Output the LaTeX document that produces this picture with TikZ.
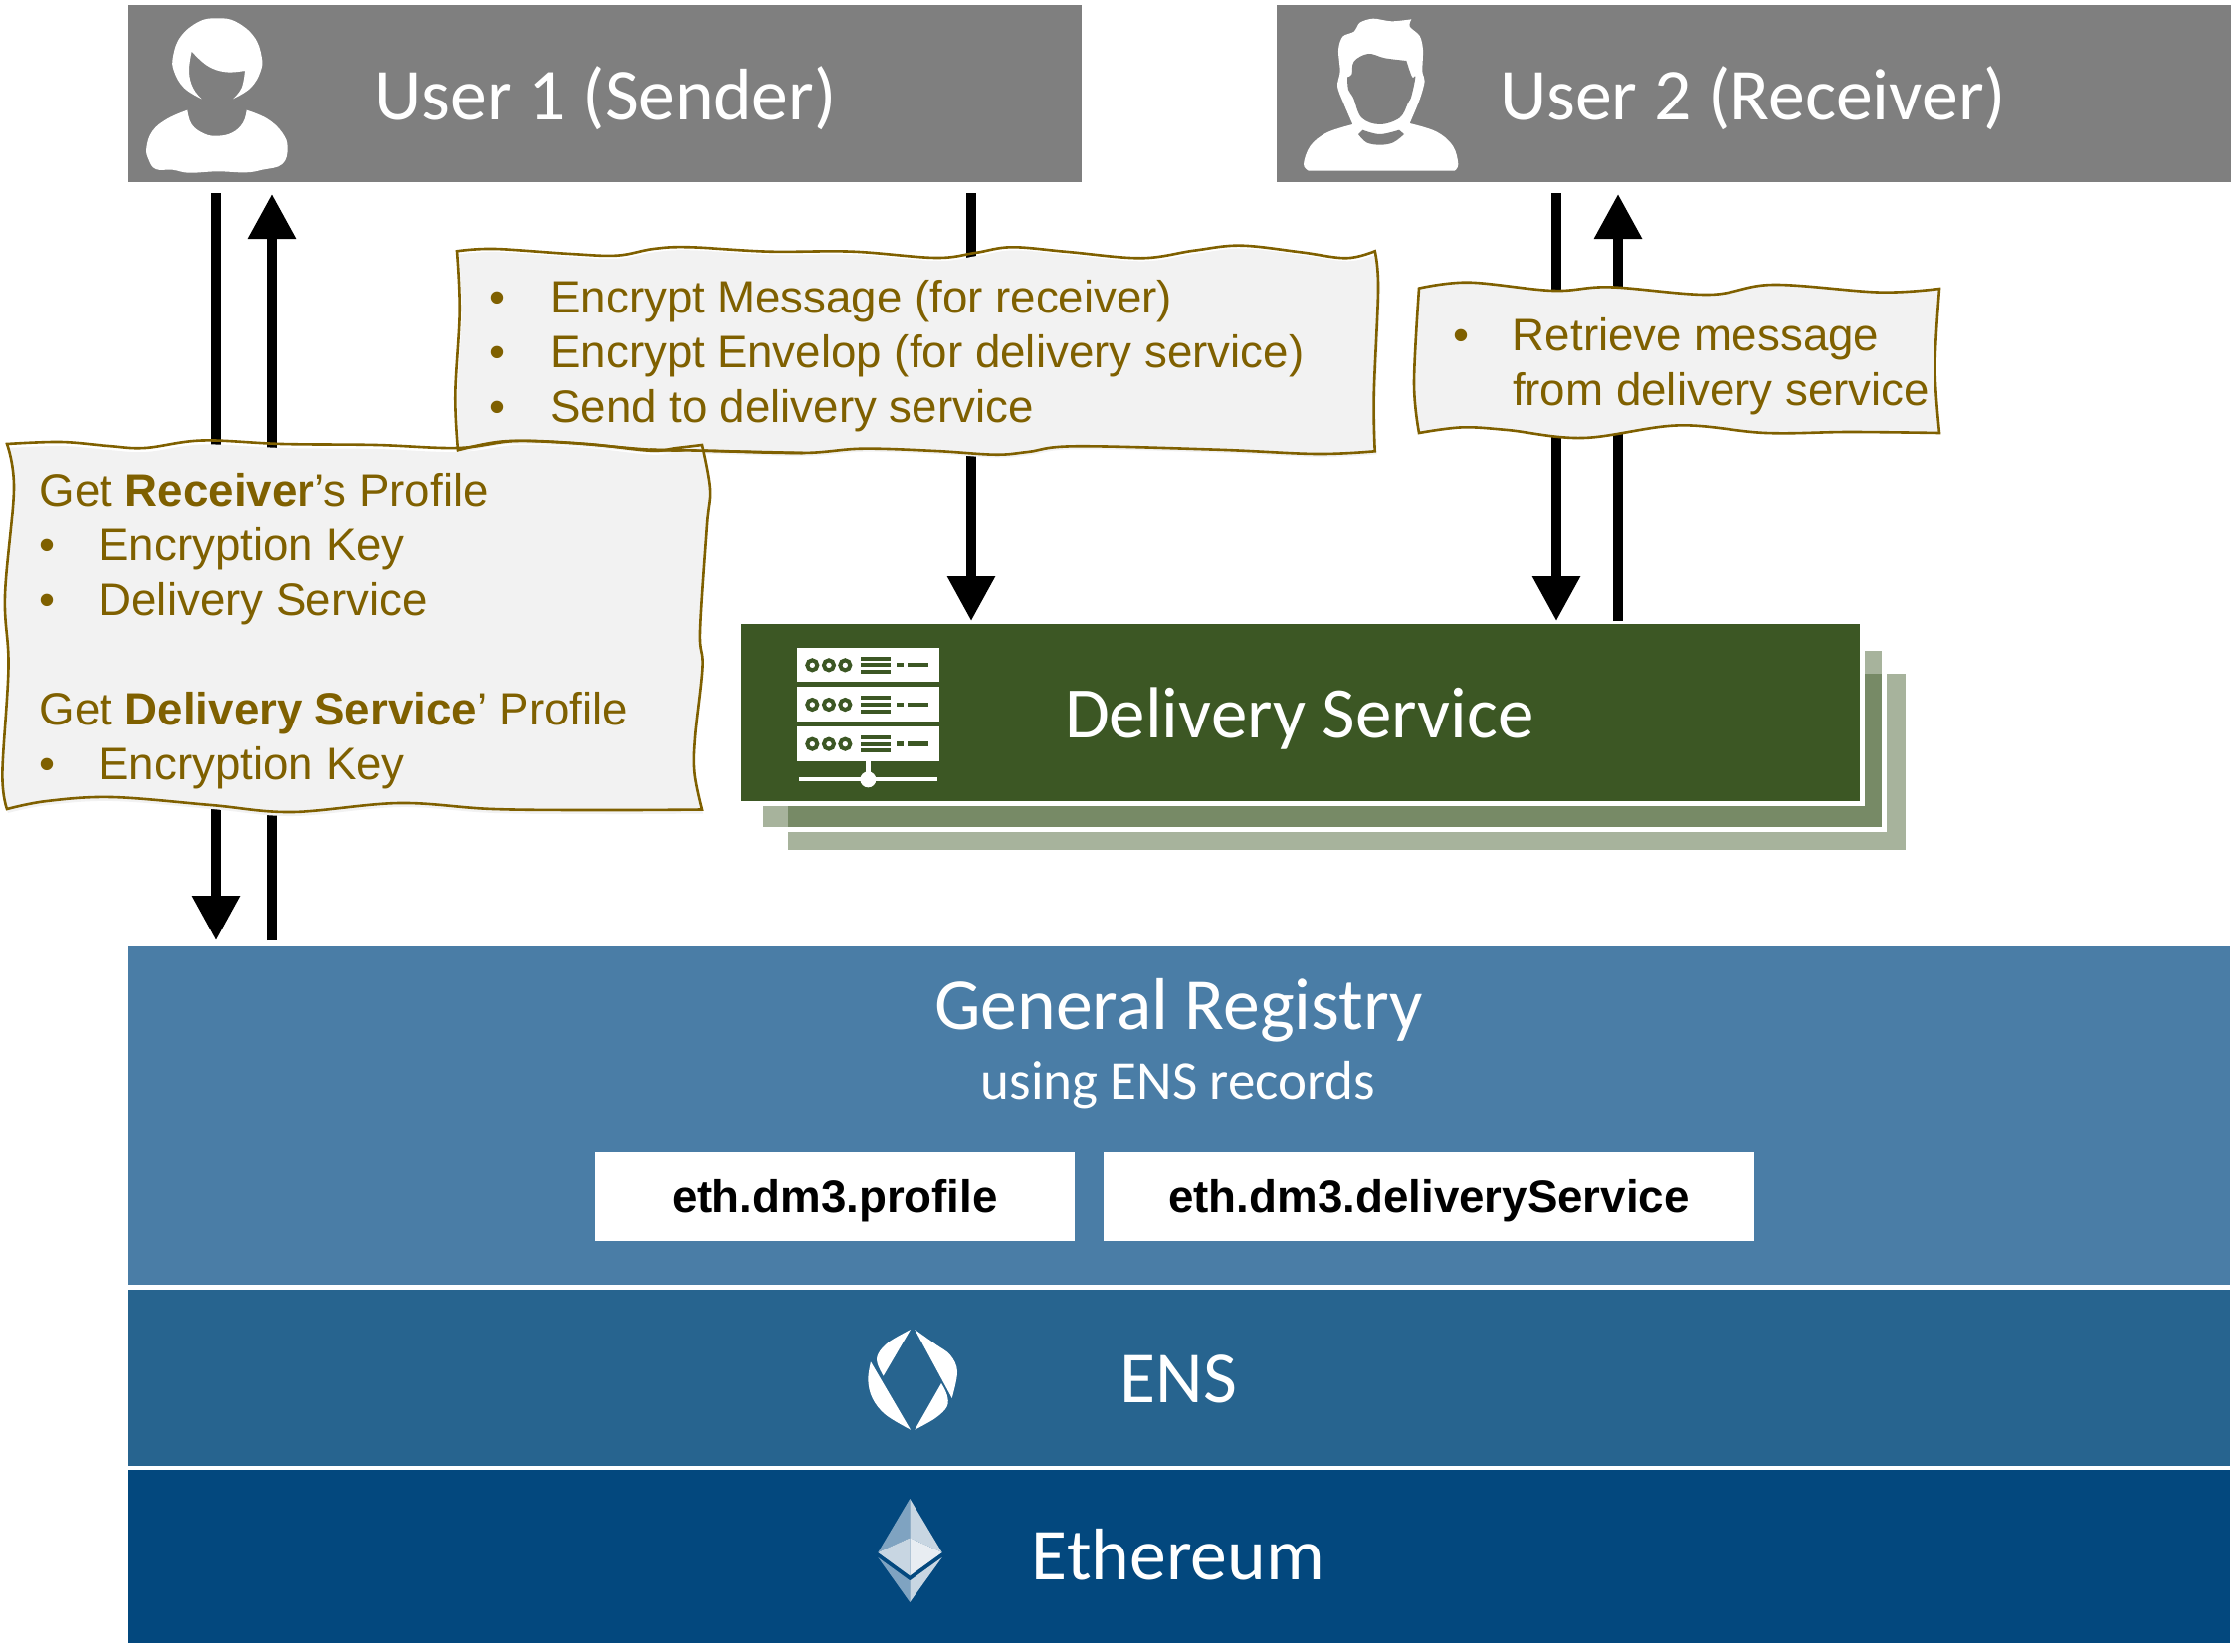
\documentclass[tikz,border=0pt]{standalone}
\usepackage{fontspec}
\setmainfont{Liberation Sans}
\newfontfamily\calib{Carlito}
\usetikzlibrary{arrows.meta}
\definecolor{bargrey}{HTML}{7F7F7F}
\definecolor{dsgreen}{HTML}{3C5724}
\definecolor{regblue}{HTML}{4A7DA6}
\definecolor{ensblue}{HTML}{27648F}
\definecolor{ethblue}{HTML}{03487E}
\definecolor{notetxt}{HTML}{7F6000}
\definecolor{notebg}{HTML}{F2F2F2}
\definecolor{ethA}{HTML}{7FA3C1}
\definecolor{ethB}{HTML}{C8D6E2}
\definecolor{ethC}{HTML}{E8EDF2}
\tikzset{
  every node/.style={outer sep=0pt},
  band/.style={rectangle,inner sep=0pt,anchor=north west,draw=none},
  title/.style={text=white,inner sep=0pt,font=\calib\fontsize{73.7}{80}\selectfont},
  subtitle/.style={text=white,inner sep=0pt,font=\calib\fontsize{55}{60}\selectfont},
  recbox/.style={band,fill=white,text=black,anchor=center,text height=36pt,text depth=3pt,font=\bfseries\fontsize{45.7}{50}\selectfont},
  layer/.style={rectangle,inner sep=0pt,anchor=north west,fill=dsgreen,fill opacity=.45,draw=white,draw opacity=1,line width=5pt},
  conn/.style={line width=9.5pt,black},
  head/.style={-{Triangle[length=45pt,width=46pt]}},
  noteline/.style={draw=notetxt,line width=2.6pt,line join=miter},
  notetext/.style={anchor=north west,inner sep=0pt,align=left,text=notetxt,font=\fontsize{45.7}{55}\selectfont},
}
\newcommand{\bul}[1]{\makebox[#1pt][l]{•}}
\def\noteA{plot[smooth,tension=.6] coordinates {(7,446)(61,444)(109,448)(146,450)(203,442.5)(283,446)(378,447)(460,450)(519,443)(590,446)(653,452.7)(680,450)(705,447)}
 -- plot[smooth,tension=.6] coordinates {(705,447)(713,491)(710,527)(703,634)(705.5,670)(698,741)(697.5,777)(705,813.5)}
 -- plot[smooth,tension=.6] coordinates {(705,813.5)(613,814)(495.5,813)(401,807)(293,816)(212,809)(113,801)(47,805)(7,813)}
 -- plot[smooth,tension=.6] coordinates {(7,813)(2.4,777)(8.5,670)(5,598.6)(14,491)(7,446)} -- cycle}
\def\noteB{plot[smooth,tension=.6] coordinates {(459,252.3)(496.7,250)(573,255)(620,256.7)(656.7,250)(693,248.3)(773,252.7)(856.7,252.7)(940,259)(980,254)(1016.7,248.3)(1073,253)(1146.7,259.3)(1200,251.7)(1246.7,246.7)(1306.7,253.3)(1353,259.3)(1381.7,252.3)}
 -- plot[smooth,tension=.6] coordinates {(1381.7,252.3)(1385,290)(1380.7,396.7)(1381.7,453.3)}
 -- plot[smooth,tension=.6] coordinates {(1381.7,453.3)(1323,456)(1223,451.7)(1080,448.3)(1033,454)(1000,456.7)(940,453)(866.7,450.7)(806.7,455)(706.7,452.7)(653,451.7)(573,445)(506.7,443.3)(460,452.3)}
 -- plot[smooth,tension=.6] coordinates {(460,452.3)(457.3,396.7)(461.7,313)(459,252.3)} -- cycle}
\def\noteC{plot[smooth,tension=.6] coordinates {(1426,289.6)(1476,283.7)(1560.5,292)(1618,288.4)(1717,296)(1782,286)(1889,293.6)(1949,290)}
 -- plot[smooth,tension=.6] coordinates {(1949,290)(1944.5,369)(1949,435)}
 -- plot[smooth,tension=.6] coordinates {(1949,435)(1858.5,434)(1774.5,435)(1686.6,427.4)(1591,440)(1514.6,432)(1469,429.4)(1426,435)}
 -- plot[smooth,tension=.6] coordinates {(1426,435)(1421,384.7)(1426,289.6)} -- cycle}
\begin{document}
\begin{tikzpicture}[x=1pt,y=-1pt]
\useasboundingbox (0,0) rectangle (2250,1659);

% header bands
\node[band,fill=bargrey,minimum width=958.5pt,minimum height=178pt] (user1) at (128.5,5) {};
\node[band,fill=bargrey,minimum width=959pt,minimum height=178pt] (user2) at (1282.5,5) {};
\node[title,anchor=base west] (user1t) at (376.5,121) {User 1 (Sender)};
\node[title,anchor=base west] (user2t) at (1507,121) {User 2 (Receiver)};

% bottom bands
\node[band,fill=regblue,minimum width=2112.5pt,minimum height=340pt] (reg) at (128.5,951) {};
\node[band,fill=ensblue,minimum width=2112.5pt,minimum height=177pt] (ens) at (128.5,1296) {};
\node[band,fill=ethblue,minimum width=2112.5pt,minimum height=174pt] (eth) at (128.5,1477) {};
\node[title,anchor=base] (regt) at (1184.5,1034) {General Registry};
\node[subtitle,anchor=base] (regs) at (1184,1104) {using ENS records};
\node[title,anchor=base] (enst) at (1184.5,1409) {ENS};
\node[title,anchor=base] (etht) at (1184,1587.5) {Ethereum};
\node[recbox,minimum width=482pt,minimum height=89pt] (rec1) at (839,1202) {eth.dm3.profile};
\node[recbox,minimum width=654pt,minimum height=89pt] (rec2) at (1436,1202) {eth.dm3.deliveryService};

% delivery service stack
\node[layer,minimum width=1128pt,minimum height=182pt] (ds3) at (789.5,674.5) {};
\node[layer,minimum width=1129pt,minimum height=182pt] (ds2) at (764.5,651.5) {};
\node[band,fill=dsgreen,draw=white,line width=5pt,minimum width=1128.5pt,minimum height=183pt] (ds) at (742.5,624.5) {};
\node[text=white,inner sep=0pt,font=\calib\fontsize{73}{80}\selectfont,anchor=base west] (dst) at (1070,741) {Delivery Service};

% connectors
\coordinate (a1s) at (217,194); \coordinate (a1e) at (217,945);
\coordinate (a2s) at (273,945); \coordinate (a2e) at (273,195);
\coordinate (a3s) at (976,194); \coordinate (a3e) at (976,624);
\coordinate (a4s) at (1564,194); \coordinate (a4e) at (1564,624);
\coordinate (a5s) at (1626,624); \coordinate (a5e) at (1626,195);
\draw[conn,head] (a1s) -- (a1e);
\draw[conn,head] (a2s) -- (a2e);
\draw[conn,head] (a3s) -- (a3e);
\draw[conn,head] (a4s) -- (a4e);
\draw[conn,head] (a5s) -- (a5e);

% notes
\fill[notebg,shift={(2,3)}] \noteB;
\draw[noteline] \noteB;
\fill[notebg,shift={(1,4)}] \noteA;
\draw[noteline] \noteA;
\draw[noteline] plot[smooth,tension=.6] coordinates {(806.7,455)(706.7,452.7)(653,451.7)};
\fill[notebg] \noteC;
\draw[noteline] \noteC;
\node[notetext] (nb) at (491.5,281) {\bul{62}Encrypt Message (for receiver)\\\bul{62}Encrypt Envelop (for delivery service)\\\bul{62}Send to delivery service};
\node[notetext] (nc) at (1460,319.5) {\bul{60}Retrieve message\\\hspace*{60pt}from delivery service};
\node[notetext] (na) at (39.5,475.5) {Get \textbf{Receiver}’s Profile\\\bul{60}Encryption Key\\\bul{60}Delivery Service\\\mbox{}\\Get \textbf{Delivery Service}’ Profile\\\bul{60}Encryption Key};

% female user icon
\begin{scope}[shift={(100,0)},x=.33333pt,y=-.33333pt]
\fill[white] plot[smooth,tension=.7] coordinates {(308,298)(255,265)(225,215)(222,170)(245,110)(300,65)(355,55)(410,65)(465,110)(488,170)(485,215)(455,265)(402,298)}
 -- plot[smooth,tension=.7] coordinates {(402,298)(428,265)(438,213)} -- plot[smooth,tension=.7] coordinates {(438,213)(380,217)(325,198)(278,155)}
 -- plot[smooth,tension=.7] coordinates {(278,155)(270,215)(282,265)(308,298)} -- cycle;
\fill[white] plot[smooth,tension=.7] coordinates {(265,332)(278,375)(315,403)(355,410)(400,400)(432,370)(443,332)}
 -- plot[smooth,tension=.7] coordinates {(443,332)(505,358)(550,400)(566,445)(550,495)(490,512)(440,520)(355,517)(270,521)(220,512)(170,510)(148,480)(142,445)(160,395)(205,358)(265,332)} -- cycle;
\end{scope}

% male user icon
\begin{scope}[shift={(1270,0)},x=.33333pt,y=-.33333pt]
\fill[white] plot[smooth,tension=.5] coordinates {(445,58)(440,80)(470,108)(480,150)(478,215)(485,245)(470,300)(440,372)}
 -- plot[smooth,tension=.6] coordinates {(440,372)(520,397)(570,440)(586,495)(575,515)}
 -- (135,515) -- plot[smooth,tension=.6] coordinates {(135,515)(120,495)(140,440)(190,400)(268,375)}
 -- plot[smooth,tension=.5] coordinates {(268,375)(240,310)(222,260)(230,215)(225,150)(238,110)(272,95)(290,68)(330,56)(385,64)(445,58)} -- cycle;
\fill[bargrey] plot[smooth,tension=.6] coordinates {(252,232)(265,225)(272,185)(315,162)(365,175)(430,183)}
 -- plot[smooth,tension=.6] coordinates {(430,183)(447,232)(457,232)(445,290)(435,310)(410,355)(350,375)(295,355)(270,295)(255,270)(252,232)} -- cycle;
\fill[bargrey] plot[smooth,tension=.6] coordinates {(298,392)(350,405)(408,392)} -- (423,405) -- plot[smooth,tension=.6] coordinates {(423,405)(390,430)(350,437)(310,430)(285,405)} -- cycle;
\end{scope}

% server icon
\begin{scope}[shift={(740,610)},x=.33333pt,y=-.33333pt]
\foreach \yy in {122,241,360}{
  \fill[white] (182,\yy) rectangle (611,\yy+104);
  \foreach \xx in {229,279,328}{\draw[dsgreen,line width=4pt] (\xx,\yy+53) circle[radius=5pt];}
  \foreach \dd in {27,47,67}{\fill[dsgreen] (374,\yy+\dd) rectangle (465,\yy+\dd+12);}
  \fill[dsgreen] (483,\yy+46) rectangle (503,\yy+59);
  \fill[dsgreen] (516,\yy+46) rectangle (578,\yy+59);
}
\fill[white] (390,464) rectangle (404,520);
\fill[white] (188,513) rectangle (605,525);
\fill[white] (397,520) circle[radius=8pt];
\end{scope}

% ENS and Ethereum logos
\begin{scope}[shift={(840,1310)},x=.33333pt,y=-.33333pt]
\fill[white] plot[smooth,tension=.6] coordinates {(225,78)(160,115)(128,150)(125,180)(143,218)} -- cycle;
\fill[white] plot[smooth,tension=.6] coordinates {(238,78)(300,122)(345,155)(366,205)(350,285)} -- cycle;
\fill[white] plot[smooth,tension=.6] coordinates {(105,175)(97,230)(110,285)(150,335)(225,380)} -- cycle;
\fill[white] plot[smooth,tension=.6] coordinates {(238,380)(300,345)(335,310)(335,275)(318,240)} -- cycle;
\fill[ethA] (223,588) -- (127,750) -- (223,706) -- cycle;
\fill[ethB] (223,588) -- (320,750) -- (223,706) -- cycle;
\fill[ethB] (127,750) -- (223,706) -- (223,820) -- cycle;
\fill[ethC] (320,750) -- (223,706) -- (223,820) -- cycle;
\fill[ethA] (127,765) -- (223,835) -- (223,900) -- cycle;
\fill[ethB] (320,765) -- (223,835) -- (223,900) -- cycle;
\end{scope}
\end{tikzpicture}
\end{document}
